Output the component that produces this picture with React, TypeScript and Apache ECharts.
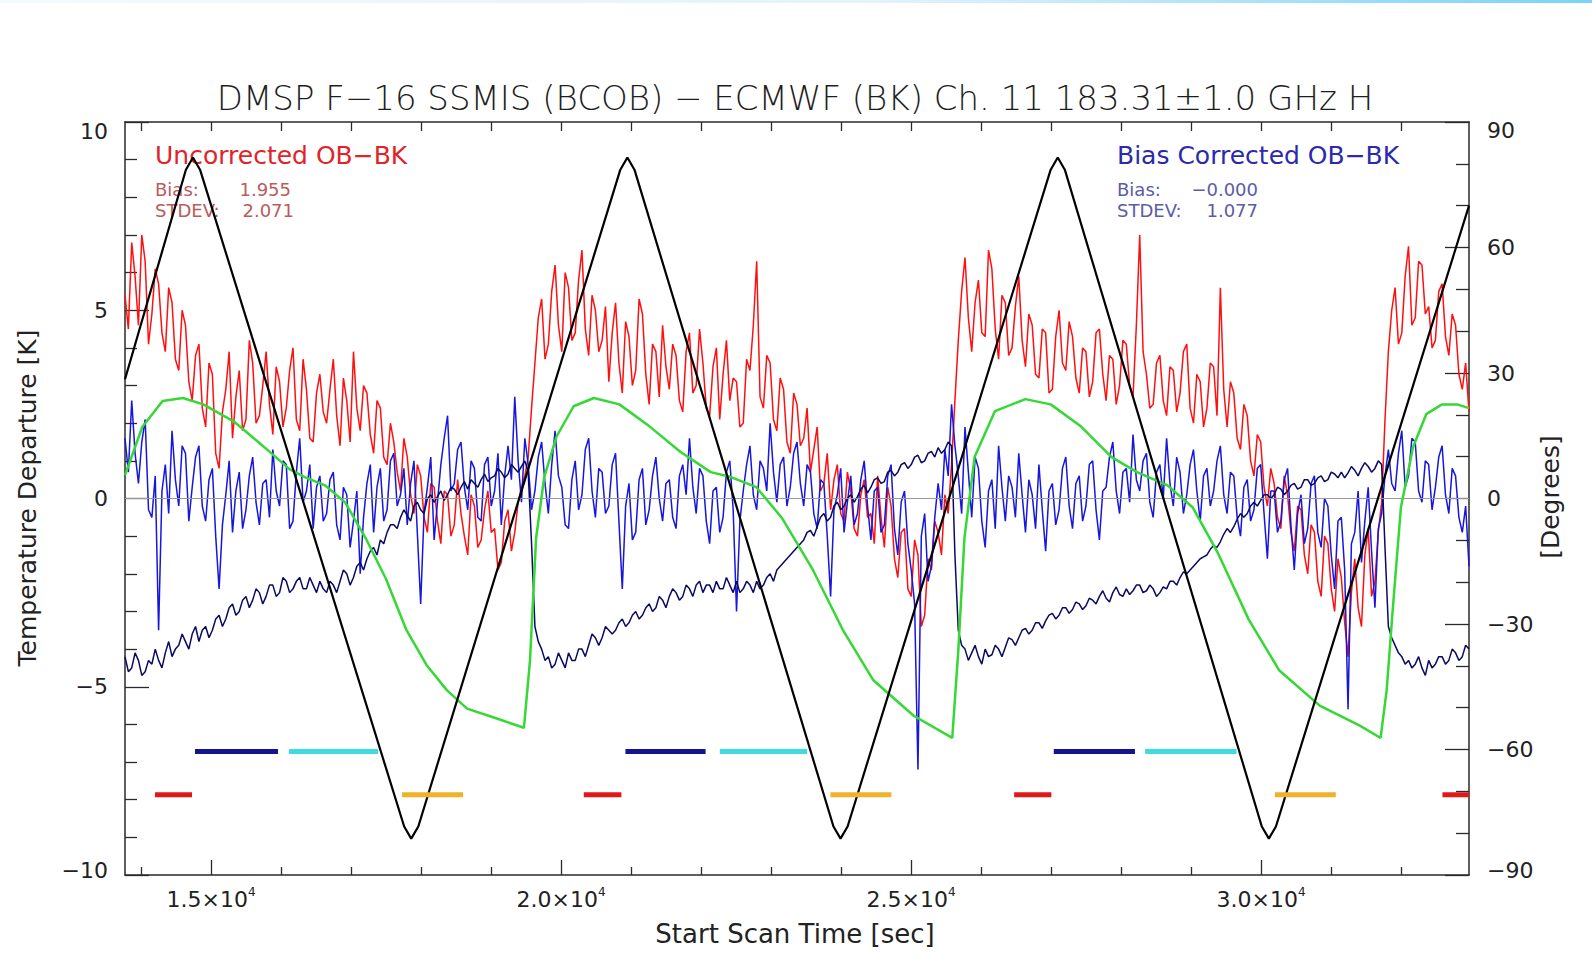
import React, { useEffect, useRef } from "react";
import * as echarts from "echarts";

// ---------------- data ----------------
const SCAN_START = 13770; // sec, left edge of plot
const SCAN_END = 32970; // sec, right edge of plot
const SCAN_STEP = 48; // sec between samples of the OB-BK series

// Uncorrected OB-BK [K] (red)
const uncorrectedObBk = [
  5.4, 4.5, 6.8, 5.9, 4.6, 7.0, 6.3, 4.1, 4.9, 6.1, 5.7, 4.4, 3.9, 5.6, 5.2, 3.7, 3.4, 5.0, 4.6, 3.1,
  2.6, 3.8, 4.1, 2.4, 1.9, 3.6, 3.3, 1.2, 0.8, 2.3, 2.9, 3.9, 1.6, 2.7, 3.4, 1.8, 2.1, 4.2, 3.6, 2.0,
  2.2, 3.0, 3.9, 2.5, 1.7, 3.5, 3.1, 1.9, 2.4, 3.4, 4.0, 2.1, 1.8, 3.7, 2.9, 1.6, 1.5, 2.8, 3.3, 2.3,
  2.0, 2.9, 3.7, 2.2, 1.4, 3.2, 2.6, 1.5, 3.9, 2.4, 1.8, 3.0, 2.8, 1.7, 1.2, 2.6, 2.4, 1.1, 0.9, 2.0,
  1.5, 0.7, 0.2, 1.6, 1.1, 0.1, -0.4, 0.9, 0.6, -0.5, -0.9, 0.4, 0.3, -0.6, -1.2, 0.2, 0.1, -1.0, -0.7, 0.5,
  -0.4, -1.0, -1.5, 0.1, -0.2, -1.3, -1.1, -0.3, 0.2, -0.9, -0.8, -1.9, -1.7, -0.6, -0.3, -1.4, -0.9, -0.1, 0.3, 0.6, 1.1,
  2.4,
  3.6, 4.8, 5.3, 3.7, 4.1, 5.5, 6.2, 4.6, 3.9, 6.0, 5.6, 4.2, 4.4, 5.8, 6.6, 4.5, 3.8, 5.4, 5.0, 3.9,
  4.2, 5.1, 3.1, 4.4, 5.2, 3.6, 2.8, 4.7, 4.3, 3.0, 3.4, 5.3, 4.9, 3.3, 2.5, 4.1, 3.9, 2.7, 4.6, 3.5,
  2.9, 4.1, 3.8, 2.6, 2.3, 3.9, 4.4, 2.8, 3.0, 4.5, 3.6, 2.4, 2.2, 3.5, 4.0, 2.1, 3.3, 4.2, 2.6, 3.2,
  3.1, 1.9, 2.0, 3.7, 3.4, 4.6, 6.3, 2.7, 2.4, 3.8, 3.6, 2.1, 1.8, 3.2, 2.9, 1.5, 1.2, 2.8, 2.5, 1.4,
  1.6, 2.4, 0.7, 1.3, 1.9, 0.2, 0.4, 1.2, -0.3, 0.5, 0.9, -0.4, -0.6, 0.7, 0.2, -0.8, -1.0, 0.1, 0.5, -0.5,
  -0.4, -1.2, 0.6, -0.5, -1.3, 0.3, -0.2, -1.6, -2.1, -0.9, -0.8, -2.4, -2.6, -1.1, -1.5, -3.4, -3.1, -1.6, -1.9, -0.6,
  -0.9, -1.5, 0.1, -0.4, 0.9, 2.6,
  4.2, 5.5, 6.4, 4.8, 3.9, 5.2, 5.8, 4.4, 4.3, 6.6, 6.1, 4.5, 3.7, 5.4,
  5.2, 3.8, 4.0, 5.1, 5.9, 4.2, 3.5, 4.9, 4.6, 3.3, 3.2, 4.5, 4.4, 2.8, 2.9, 4.3, 5.0, 3.6, 3.4, 4.7,
  4.3, 3.2, 2.8, 4.0, 3.9, 2.7, 3.1, 4.4, 4.5, 3.3, 2.6, 3.8, 3.7, 2.5, 3.0, 4.2, 4.1, 3.0, 2.7, 4.6,
  7.0, 3.9, 3.3, 2.4, 2.5, 3.6, 3.8, 2.6, 2.2, 3.5, 3.4, 2.3, 2.8, 3.9, 4.1, 2.4, 2.0, 3.3, 3.1, 1.9,
  2.4, 3.6, 3.5, 2.2, 5.6, 2.9, 1.9, 3.1, 2.8, 1.6, 1.3, 2.5, 2.2, 1.0, 0.6, 1.7, 1.5, 0.3, -0.2, 0.8,
  0.4, -0.5, -0.8, 0.6, 0.1, -0.9, -1.4, -0.2, -0.3, -1.5, -2.0, -0.7, -0.9, -2.2, -2.6, -1.0, -1.2, -2.4, -3.0, -1.6,
  -2.1, -3.3, -4.2, -2.5, -1.6, -2.9, -3.4, -1.5, -0.8, -2.6, -2.2, -0.9, -0.1, 2.1,
  3.9, 5.0, 5.6, 4.1, 4.4, 5.9, 6.7, 4.6, 4.8, 6.3, 6.2, 4.9, 5.1, 4.0, 4.2, 5.5, 5.7, 4.3, 3.8, 4.9, 4.6, 3.3, 2.9, 3.6, 2.3,
];

// Bias corrected OB-BK [K] (blue)
const correctedObBk = [
  1.6, 0.7, 2.6, 1.2, 0.4, 1.5, 2.1, -0.3, -0.5, 0.6, -3.5, 0.2, 0.9, -0.4, 1.8, 0.5, -0.2, 1.4, 1.2, -0.6,
  0.3, 1.1, 1.4, -0.2, -0.6, 0.5, 0.8, -1.0, -2.4, -0.7, 0.1, 1.0, -0.9, 0.2, 0.7, -0.8, -0.3, 0.6, 1.1, -0.1,
  -0.7, 0.4, 0.5, -0.5, 1.3, 0.2, -0.2, 1.0, 0.9, -0.8, -0.6, 0.7, 1.6, -0.1, 0.2, 0.9, -0.8, 0.3, 0.6, -0.6,
  -0.4, 0.5, 0.7, -0.7, -1.1, 0.3, 0.1, -1.3, -0.6, 0.2, -2.0, -0.5, 0.4, 0.9, -0.9, 0.3, 0.8, -0.6, -0.3, 1.0,
  1.2, -0.2, 0.1, 0.8, -0.7, 0.4, 1.0, -0.9, -2.8, -0.4, 0.3, 1.1, -1.1, -0.1, 0.9, 1.6, 2.2, 0.2, 0.4, 1.3,
  1.5, 0.3, -0.3, 1.0, 0.8, -0.5, -0.6, 0.9, 1.1, -0.2, 0.2, 1.2, -0.7, 0.6, 1.4, 0.5, 2.7, 1.0, -0.1, 1.6, 0.9,
  -0.3,
  0.2, 1.1, 1.5, 0.4, -0.4, 0.9, 1.8, 0.6, 0.3, -0.7, -0.8, 0.5, 1.0, -0.3, 0.1, 1.3, 1.6, 0.2, -0.5, 0.8,
  0.7, -0.4, -0.2, 0.9, 1.2, -0.6, -2.4, -0.2, 0.4, -1.1, -0.9, 0.5, 0.8, -0.7, -0.3, 0.6, 1.1, 0.0, -0.6, 0.4,
  0.5, -0.5, -0.8, 0.6, 0.9, 0.1, 1.6, 0.3, -0.4, 0.8, 0.6, -0.6, -1.2, 0.2, 0.3, -0.9, -0.5, 0.7, 1.0, -0.3,
  -3.0, -0.6, 0.2, 0.9, 1.4, 0.1, -0.3, 1.0, 0.8, 0.2, 2.0, 0.7, -0.1, 0.9, 1.1, -0.2, 0.3, 1.2, 1.5, 0.4,
  -0.2, 0.9, 0.7, -0.4, -0.8, 0.5, 0.4, -1.0, -2.6, -0.3, 0.1, 0.8, -0.9, -0.1, 0.6, -0.7, -0.4, 0.5, 1.0, -0.2,
  -1.1, 0.2, 0.3, -0.9, -0.7, 0.6, 0.9, -0.8, -1.5, -0.1, 0.2, -1.2, -1.9, -2.8, -7.2, -1.0, -0.4, -2.2, -1.8, -0.5,
  0.4, -0.3, 1.3, 0.6, 2.5, 1.4,
  0.6, -0.4, 1.9, 0.7, -0.5, 1.1, 0.8, -0.6, -1.3, 0.2, 0.5, -0.8, 1.4, 0.3,
  -0.6, 0.6, 0.3, -0.5, 1.2, 0.1, -0.9, 0.5, 0.1, -0.8, 0.9, -0.3, -1.4, 0.2, 0.4, -0.7, -0.3, 0.8, 1.1, -0.2,
  -0.8, 0.4, 0.6, -0.6, -0.2, 0.9, 1.0, -0.3, -1.1, 0.2, 0.3, 1.1, 1.5, 0.2, -0.4, 0.7, 0.8, -0.1, 1.7, 0.5,
  0.2, 1.0, 1.2, -0.1, -0.5, 0.7, 0.9, 0.0, 1.6, 0.4, -0.2, 1.1, 0.7, -0.4, 0.1, 0.9, 1.3, 0.2, -0.6, 0.6,
  0.8, -0.2, 0.2, 1.0, 1.4, 0.1, -0.4, 0.7, 0.6, -0.5, -1.0, 0.3, 0.5, -0.6, -0.3, 0.8, 0.9, -0.4, -1.6, 0.2,
  0.2, -0.9, -0.6, 0.5, 0.8, -0.7, -1.9, -0.4, 0.1, -1.2, -0.8, 0.4, 0.6, -0.9, -1.3, 0.0, -0.2, -1.5, -2.4, -0.6,
  -0.5, -1.9, -5.6, -1.2, -0.9, 0.2, -1.7, -0.6, 0.3, -1.4, -2.9, -0.8, -0.4, 0.6,
  1.3, 0.4, 0.2, 1.2, 1.8, 0.3, 0.6, 1.6, 1.5, 0.2, -0.1, 1.0, 0.9, -0.3, 0.3, 1.1, 1.4, 0.1, -0.4, 0.8, 0.6, -0.5, -0.9, -0.2, -1.8,
];

// Dark navy residual series [K]
const navyResidual = [
  -4.2, -4.6, -4.5, -4.1, -4.3, -4.7, -4.6, -4.3, -4.4, -4.0, -4.3, -4.5, -4.1, -3.8, -4.2, -4.0, -3.9, -3.6, -3.8, -4.0,
  -3.6, -3.4, -3.8, -3.5, -3.4, -3.7, -3.5, -3.2, -3.1, -3.4, -3.2, -2.9, -2.8, -3.1, -3.0, -2.7, -2.6, -2.9, -2.7, -2.4,
  -2.5, -2.8, -2.6, -2.3, -2.3, -2.6, -2.5, -2.1, -2.2, -2.5, -2.4, -2.2, -2.1, -2.4, -2.4, -2.1, -2.3, -2.5, -2.2, -2.4,
  -2.5, -2.2, -2.3, -2.5, -2.2, -1.9, -2.0, -2.3, -2.1, -1.8, -1.7, -1.9, -1.6, -1.4, -1.3, -1.5, -1.1, -1.2, -0.9, -0.7,
  -0.7, -0.8, -0.5, -0.3, -0.45, -0.6, -0.2, -0.1, -0.3, -0.4, 0.0, 0.1, -0.1, 0.05, 0.2, -0.05, 0.1, 0.3, 0.25, 0.1,
  0.3, 0.45, 0.25, 0.5, 0.4, 0.3, 0.5, 0.65, 0.45, 0.55, 0.6, 0.8, 0.7, 0.55, 0.65, 0.9, 0.8, 0.7, 0.85, 1.0, 0.7,
  -1.2,
  -3.4, -3.8, -4.0, -4.3, -4.2, -4.5, -4.4, -4.1, -4.3, -4.5, -4.1, -4.3, -4.3, -4.0, -4.0, -4.2, -3.9, -3.6, -3.7, -3.9,
  -3.7, -3.4, -3.5, -3.6, -3.5, -3.3, -3.2, -3.4, -3.3, -3.1, -3.0, -3.2, -3.1, -2.9, -2.8, -3.0, -2.9, -2.6, -2.7, -2.9,
  -2.6, -2.4, -2.5, -2.7, -2.6, -2.3, -2.4, -2.6, -2.3, -2.2, -2.5, -2.3, -2.3, -2.5, -2.2, -2.4, -2.4, -2.1, -2.3, -2.5,
  -2.2, -2.5, -2.4, -2.2, -2.3, -2.5, -2.2, -2.4, -2.3, -2.1, -2.0, -2.2, -1.9, -1.8, -1.7, -1.6, -1.5, -1.4, -1.3, -1.2,
  -1.1, -0.9, -0.85, -1.0, -0.75, -0.5, -0.4, -0.6, -0.5, -0.2, -0.1, -0.3, -0.2, 0.0, 0.1, -0.1, 0.05, 0.25, 0.35, 0.15,
  0.3, 0.5, 0.55, 0.4, 0.45, 0.7, 0.75, 0.6, 0.7, 0.9, 0.95, 0.8, 0.9, 1.1, 1.15, 0.95, 1.0, 1.2, 1.25, 1.1,
  1.35, 1.2, 1.3, 1.5, 1.4, -1.5,
  -3.5, -3.9, -4.0, -4.3, -4.1, -3.9, -4.2, -4.4, -4.0, -4.2, -4.15, -3.9, -4.0, -4.2,
  -3.95, -3.7, -3.75, -3.9, -3.7, -3.5, -3.45, -3.6, -3.5, -3.3, -3.3, -3.45, -3.25, -3.1, -3.05, -3.2, -3.1, -2.9, -2.9, -3.05,
  -2.95, -2.75, -2.8, -2.95, -2.85, -2.65, -2.7, -2.8, -2.6, -2.45, -2.65, -2.75, -2.5, -2.35, -2.55, -2.6, -2.4, -2.55, -2.45, -2.3,
  -2.3, -2.5, -2.45, -2.3, -2.4, -2.6, -2.5, -2.35, -2.4, -2.2, -2.2, -2.3, -2.1, -1.95, -2.0, -1.9, -1.8, -1.7, -1.6, -1.55,
  -1.5, -1.35, -1.25, -1.3, -1.15, -0.95, -0.8, -0.9, -0.75, -0.55, -0.4, -0.5, -0.4, -0.2, -0.1, -0.2, -0.05, 0.1, 0.1, 0.0,
  0.1, 0.3, 0.25, 0.1, 0.2, 0.35, 0.4, 0.25, 0.3, 0.5, 0.5, 0.35, 0.4, 0.55, 0.6, 0.45, 0.5, 0.7, 0.65, 0.55,
  0.7, 0.55, 0.68, 0.85, 0.75, 0.6, 0.8, 0.95, 0.85, 0.7, 0.8, 1.0, 0.9, -1.3,
  -3.4, -3.7, -3.9, -4.1, -4.2, -4.4, -4.3, -4.5, -4.4, -4.2, -4.5, -4.7, -4.3, -4.5, -4.4, -4.2, -4.2, -4.4, -4.3, -4.0, -4.1, -4.3, -4.2, -3.9, -4.0,
];

// Green smooth curve [K]
const greenTime = [
  13770, 14017, 14307, 14597, 14887, 15322, 15756, 16119, 16337, 16627,
  16917, 17207, 17497, 17787, 18077, 18367, 18657, 19092, 19469, 19556,
  19643, 19759, 19933, 20179, 20469, 20832, 21267, 21702, 22137, 22427,
  22789, 23152, 23587, 24022, 24457, 25037, 25588, 25675, 25762, 25907,
  26197, 26632, 26994, 27429, 27864, 28227, 28662, 29024, 29386, 29822,
  30257, 30837, 31417, 31707, 31794, 31881, 31997, 32171, 32359, 32584,
  32802, 32970,
];
const greenValue = [
  0.62, 1.9, 2.59, 2.67, 2.5, 2.05, 1.37, 0.78, 0.57, 0.35,
  -0.11, -1.05, -2.13, -3.48, -4.42, -5.09, -5.58, -5.85, -6.09, -4.29,
  -1.05, 0.57, 1.64, 2.45, 2.67, 2.5, 1.91, 1.24, 0.7, 0.57,
  0.3, -0.51, -1.86, -3.48, -4.82, -5.77, -6.36, -4.02, -1.05, 1.1,
  2.32, 2.64, 2.5, 1.91, 1.1, 0.7, 0.35, -0.24, -1.46, -3.21,
  -4.56, -5.5, -6.04, -6.36, -5.09, -2.94, -0.24, 1.37, 2.24, 2.5,
  2.5, 2.4,
];

// Black latitude curve [degrees, right axis]
const latTime = [
  13770, 14640, 14741, 14842, 17758, 17859, 17960, 20846, 20947, 21048,
  23891, 23992, 24093, 26994, 27095, 27196, 30010, 30111, 30212, 32970,
];
const latDeg = [
  28.5, 78.6, 81.5, 78.6, -78.4, -81.3, -78.4, 78.6, 81.5, 78.6,
  -78.4, -81.3, -78.4, 78.6, 81.5, 78.6, -78.4, -81.3, -78.4, 70,
];

// Horizontal segment markers (start, end in sec)
const navyBars = [[14770, 15956], [20919, 22064], [27038, 28198]];
const cyanBars = [[16113, 17384], [22267, 23514], [28343, 29648]];
const redBars = [[14199, 14727], [20324, 20861], [26472, 27004], [32591, 32970]];
const orangeBars = [[17727, 18599], [23848, 24718], [30197, 31067]];
const UPPER_BAR_K = -6.72;
const LOWER_BAR_K = -7.87;

// Ticks
const xMajorTicks = [15000, 20000, 25000, 30000];
const xMinorTicks = [14000, 16000, 17000, 18000, 19000, 21000, 22000, 23000, 24000, 26000, 27000, 28000, 29000, 31000, 32000];
const xAllTicks = [14000, 15000, 16000, 17000, 18000, 19000, 20000, 21000, 22000, 23000, 24000, 25000, 26000, 27000, 28000, 29000, 30000, 31000, 32000];

const TITLE = "DMSP F\u221216 SSMIS (BCOB) \u2212 ECMWF (BK) Ch. 11 183.31\u00b11.0 GHz H";
const FONT = '"DejaVu Sans", "Liberation Sans", sans-serif';
const AXIS_COLOR = "#2a2a2a";
const TEXT_COLOR = "#222222";

const toPairs = (vals: number[]) => vals.map((v, i) => [SCAN_START + i * SCAN_STEP, v]);
const zip = (xs: number[], ys: number[]) => xs.map((x, i) => [x, ys[i]]);
const minus = (v: number) => (v < 0 ? "\u2212" + Math.abs(v) : String(v));

function barSeries(bars: number[][], level: number, color: string) {
  return bars.map(([s, e]) => ({
    type: "line",
    data: [[s, level], [e, level]],
    symbol: "none",
    silent: true,
    z: 8,
    lineStyle: { color, width: 5, cap: "butt" },
  }));
}

function textEl(x: number, y: number, text: string, size: number, fill: string, align = "left", extra: any = {}) {
  return {
    type: "text",
    x,
    y,
    silent: true,
    ...extra,
    style: { text, fontSize: size, fontFamily: FONT, fill, align, verticalAlign: "middle", ...(extra.style || {}) },
  };
}

export default function App() {
  const ref = useRef<HTMLDivElement>(null);

  useEffect(() => {
    if (!ref.current) return;
    const chart = echarts.init(ref.current, undefined, { renderer: "svg" });

    const tickLine = { color: AXIS_COLOR, width: 1.3 };
    const axisLine = { show: true, onZero: false, lineStyle: { color: AXIS_COLOR, width: 1.5 } };

    const option: any = {
      animation: false,
      backgroundColor: "#ffffff",
      grid: { left: 125, right: 123, top: 122, bottom: 87, containLabel: false },
      xAxis: [
        {
          type: "value",
          min: SCAN_START,
          max: SCAN_END,
          position: "bottom",
          axisLine,
          axisTick: { show: true, inside: true, length: 15, customValues: xMajorTicks, lineStyle: tickLine },
          axisLabel: {
            show: true,
            customValues: xMajorTicks,
            margin: 11,
            formatter: (v: number) => `{b|${(v / 10000).toFixed(1)}\u00d710}{s|4}`,
            rich: {
              b: { fontSize: 22, fontFamily: FONT, color: TEXT_COLOR, lineHeight: 26 },
              s: { fontSize: 12, fontFamily: FONT, color: TEXT_COLOR, lineHeight: 26, verticalAlign: "top" },
            },
          },
          splitLine: { show: false },
        },
        {
          type: "value",
          min: SCAN_START,
          max: SCAN_END,
          position: "bottom",
          axisLine: { show: false, onZero: false },
          axisTick: { show: true, inside: true, length: 8, customValues: xMinorTicks, lineStyle: tickLine },
          axisLabel: { show: false },
          splitLine: { show: false },
        },
        {
          type: "value",
          min: SCAN_START,
          max: SCAN_END,
          position: "top",
          axisLine,
          axisTick: { show: true, inside: true, length: 9, customValues: xAllTicks, lineStyle: tickLine },
          axisLabel: { show: false },
          splitLine: { show: false },
        },
      ],
      yAxis: [
        {
          type: "value",
          min: -10,
          max: 10,
          interval: 5,
          position: "left",
          axisLine,
          axisTick: { show: true, inside: true, length: 24, lineStyle: tickLine },
          minorTick: { show: true, splitNumber: 5, length: 12, lineStyle: tickLine },
          splitLine: { show: false },
          minorSplitLine: { show: false },
          axisLabel: {
            margin: 17,
            fontSize: 22,
            fontFamily: FONT,
            color: TEXT_COLOR,
            formatter: (v: number) => (v === 10 ? "{t|10}" : v === -10 ? "{m|\u221210}" : minus(v)),
            rich: {
              t: { fontSize: 22, fontFamily: FONT, color: TEXT_COLOR, padding: [18, 0, 0, 0] },
              m: { fontSize: 22, fontFamily: FONT, color: TEXT_COLOR, padding: [0, 0, 10, 0] },
            },
          },
        },
        {
          type: "value",
          min: -90,
          max: 90,
          interval: 30,
          position: "right",
          axisLine,
          axisTick: { show: true, inside: true, length: 24, lineStyle: tickLine },
          minorTick: { show: true, splitNumber: 3, length: 13, lineStyle: tickLine },
          splitLine: { show: false },
          minorSplitLine: { show: false },
          axisLabel: {
            margin: 18,
            fontSize: 22,
            fontFamily: FONT,
            color: TEXT_COLOR,
            formatter: (v: number) => (v === 90 ? "{t|90}" : v === -90 ? "{m|\u221290}" : minus(v)),
            rich: {
              t: { fontSize: 22, fontFamily: FONT, color: TEXT_COLOR, padding: [16, 0, 0, 0] },
              m: { fontSize: 22, fontFamily: FONT, color: TEXT_COLOR, padding: [0, 0, 10, 0] },
            },
          },
        },
      ],
      series: [
        {
          name: "Uncorrected OB-BK",
          type: "line",
          data: toPairs(uncorrectedObBk),
          symbol: "none",
          z: 2,
          lineStyle: { color: "#ff1010", width: 1.5 },
          markLine: {
            silent: true,
            symbol: ["none", "none"],
            label: { show: false },
            lineStyle: { color: "#9a9a9a", width: 1, type: "solid" },
            data: [{ yAxis: 0 }],
          },
        },
        {
          name: "Bias Corrected OB-BK",
          type: "line",
          data: toPairs(correctedObBk),
          symbol: "none",
          z: 3,
          lineStyle: { color: "#1616dc", width: 1.5 },
        },
        {
          name: "Residual",
          type: "line",
          data: toPairs(navyResidual),
          symbol: "none",
          z: 4,
          lineStyle: { color: "#0a0a62", width: 1.5 },
        },
        {
          name: "Bias model",
          type: "line",
          data: zip(greenTime, greenValue),
          symbol: "none",
          z: 5,
          lineStyle: { color: "#35d835", width: 2.5 },
        },
        {
          name: "Latitude",
          type: "line",
          yAxisIndex: 1,
          data: zip(latTime, latDeg),
          symbol: "none",
          z: 6,
          lineStyle: { color: "#000000", width: 2.2 },
        },
        ...barSeries(navyBars, UPPER_BAR_K, "#14148e"),
        ...barSeries(cyanBars, UPPER_BAR_K, "#3fdbe2"),
        ...barSeries(redBars, LOWER_BAR_K, "#e01818"),
        ...barSeries(orangeBars, LOWER_BAR_K, "#f0b22a"),
      ],
      graphic: [
        {
          type: "rect",
          x: 0,
          y: 0,
          silent: true,
          shape: { width: 1592, height: 3 },
          style: {
            fill: new echarts.graphic.LinearGradient(0, 0, 1, 0, [
              { offset: 0, color: "#f5fafd" },
              { offset: 0.55, color: "#e2f3fc" },
              { offset: 1, color: "#7ad2f8" },
            ]),
          },
        },
        textEl(795, 98, TITLE, 34, "#1e1e1e", "center", { style: { fontWeight: 300 } }),
        textEl(27, 498, "Temperature Departure [K]", 25, TEXT_COLOR, "center", { rotation: Math.PI / 2 }),
        textEl(1550, 497, "[Degrees]", 25, TEXT_COLOR, "center", { rotation: Math.PI / 2 }),
        textEl(795, 934, "Start Scan Time [sec]", 26, TEXT_COLOR, "center"),
        textEl(155, 155, "Uncorrected OB\u2212BK", 25, "#e0242a"),
        textEl(155, 189, "Bias:", 18, "#b95c5c"),
        textEl(291, 189, "1.955", 18, "#b95c5c", "right"),
        textEl(155, 210, "STDEV:", 18, "#b95c5c"),
        textEl(294, 210, "2.071", 18, "#b95c5c", "right"),
        textEl(1117, 155, "Bias Corrected OB\u2212BK", 25, "#2a2aaa"),
        textEl(1117, 189, "Bias:", 18, "#5b5ba6"),
        textEl(1258, 189, "\u22120.000", 18, "#5b5ba6", "right"),
        textEl(1117, 210, "STDEV:", 18, "#5b5ba6"),
        textEl(1258, 210, "1.077", 18, "#5b5ba6", "right"),
      ],
    };

    chart.setOption(option);
    return () => {
      chart.dispose();
    };
  }, []);

  return (
    <div
      ref={ref}
      style={{ position: "fixed", left: 0, top: 0, width: 1592, height: 962, background: "#ffffff" }}
    />
  );
}
